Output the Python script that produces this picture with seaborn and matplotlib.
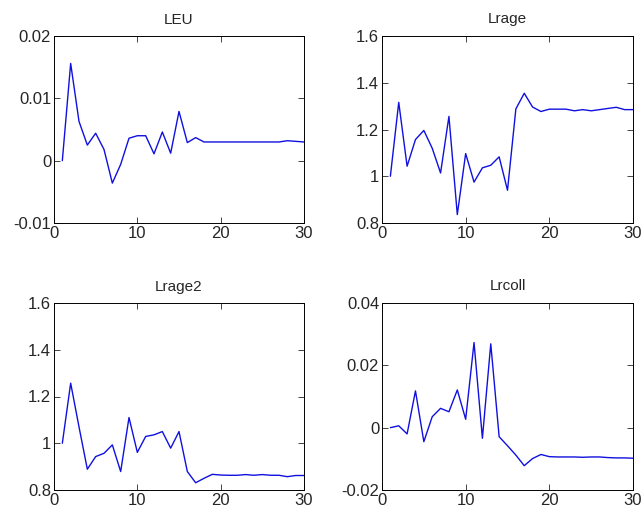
import seaborn as sns
import pandas as pd
import numpy as np
import matplotlib.pyplot as plt

sns.set_style('white')
plt.rcParams['font.family'] = ['Liberation Sans', 'DejaVu Sans']

steps = list(range(1, 31))

leu = [0.0, 0.0156, 0.0063, 0.0025, 0.0044, 0.0018, -0.0036, -0.0006, 0.0036, 0.004,
       0.004, 0.0011, 0.0046, 0.0012, 0.0079, 0.0029, 0.0037, 0.003, 0.003, 0.003,
       0.003, 0.003, 0.003, 0.003, 0.003, 0.003, 0.003, 0.0032, 0.0031, 0.003]

lrage = [1.0, 1.316, 1.043, 1.157, 1.196, 1.12, 1.014, 1.256, 0.836, 1.097,
         0.975, 1.036, 1.047, 1.083, 0.94, 1.288, 1.355, 1.296, 1.277, 1.287,
         1.287, 1.287, 1.28, 1.285, 1.28, 1.285, 1.29, 1.295, 1.285, 1.285]

lrage2 = [1.0, 1.257, 1.07, 0.889, 0.943, 0.957, 0.993, 0.879, 1.11, 0.961,
          1.029, 1.036, 1.05, 0.979, 1.05, 0.879, 0.831, 0.85, 0.867, 0.864,
          0.863, 0.863, 0.866, 0.863, 0.866, 0.863, 0.863, 0.857, 0.862, 0.862]

lrcoll = [0.0, 0.0006, -0.002, 0.0118, -0.0045, 0.0035, 0.0062, 0.0051, 0.0121, 0.0027,
          0.0273, -0.0034, 0.0269, -0.0029, -0.0058, -0.0088, -0.0122, -0.0099, -0.0086, -0.0093,
          -0.0094, -0.0094, -0.0094, -0.0095, -0.0094, -0.0094, -0.0096, -0.0097, -0.0097, -0.0098]

panels = [
    ('LEU', leu, (-0.01, 0.02), [-0.01, 0, 0.01, 0.02], ['-0.01', '0', '0.01', '0.02']),
    ('Lrage', lrage, (0.8, 1.6), [0.8, 1.0, 1.2, 1.4, 1.6], ['0.8', '1', '1.2', '1.4', '1.6']),
    ('Lrage2', lrage2, (0.8, 1.6), [0.8, 1.0, 1.2, 1.4, 1.6], ['0.8', '1', '1.2', '1.4', '1.6']),
    ('Lrcoll', lrcoll, (-0.02, 0.04), [-0.02, 0, 0.02, 0.04], ['-0.02', '0', '0.02', '0.04']),
]

fig = plt.figure(figsize=(6.44, 5.17), dpi=100)
# axes boxes in figure pixels: left, right, top, bottom
boxes = [(54, 304, 36, 223), (382, 633, 36, 223), (54, 304, 303, 490), (382, 633, 303, 490)]

for (title, vals, ylim, yt, ylab), (l, r, t, b) in zip(panels, boxes):
    ax = fig.add_axes([l / 644, 1 - b / 517, (r - l) / 644, (b - t) / 517])
    df = pd.DataFrame({'step': steps, 'val': vals})
    sns.lineplot(data=df, x='step', y='val', ax=ax, color='#1010e0', linewidth=1.0)
    ax.set_xlim(0, 30)
    ax.set_ylim(*ylim)
    ax.set_xticks([0, 10, 20, 30])
    ax.set_yticks(yt)
    ax.set_yticklabels(ylab)
    ax.set_xlabel('')
    ax.set_ylabel('')
    ax.set_title(title, fontsize=11, pad=9)
    ax.tick_params(direction='in', length=4, width=0.6, labelsize=12,
                   top=True, right=True, bottom=True, left=True, pad=2)
    for s in ax.spines.values():
        s.set_color('black')
        s.set_linewidth(0.7)

fig.savefig('out.png', dpi=100)
